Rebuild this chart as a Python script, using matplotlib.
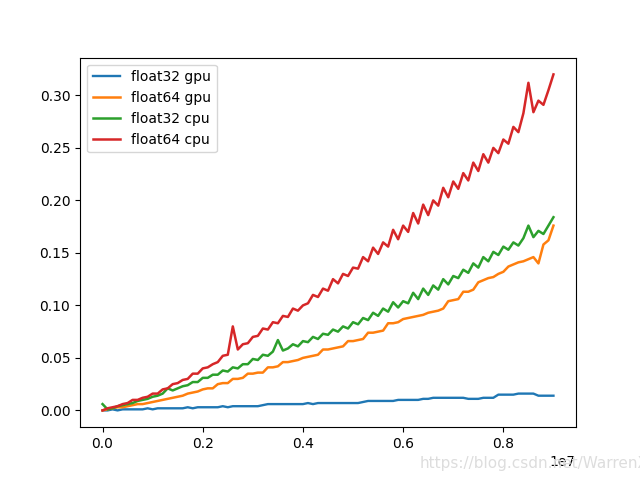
import numpy as np
import matplotlib
matplotlib.use('Agg')
import matplotlib.pyplot as plt
from matplotlib.ticker import ScalarFormatter

# 행렬 크기 (0 ~ 9e6, 1e5 간격)
sizes = np.linspace(0, 9e6, 91)

# 측정 시간 (초)
float32_gpu = [0.000, 0.000, 0.001, 0.000, 0.001, 0.001, 0.001, 0.001, 0.001, 0.002,
               0.001, 0.002, 0.002, 0.002, 0.002, 0.002, 0.002, 0.003, 0.002, 0.003,
               0.003, 0.003, 0.003, 0.003, 0.004, 0.003, 0.004, 0.004, 0.004, 0.004,
               0.004, 0.004, 0.005, 0.006, 0.006, 0.006, 0.006, 0.006, 0.006, 0.006,
               0.006, 0.007, 0.006, 0.007, 0.007, 0.007, 0.007, 0.007, 0.007, 0.007,
               0.007, 0.007, 0.008, 0.009, 0.009, 0.009, 0.009, 0.009, 0.009, 0.010,
               0.010, 0.010, 0.010, 0.010, 0.011, 0.011, 0.012, 0.012, 0.012, 0.012,
               0.012, 0.012, 0.012, 0.011, 0.011, 0.011, 0.012, 0.012, 0.012, 0.015,
               0.015, 0.015, 0.015, 0.016, 0.016, 0.016, 0.016, 0.014, 0.014, 0.014,
               0.014]

float64_gpu = [0.000, 0.001, 0.002, 0.003, 0.003, 0.004, 0.005, 0.006, 0.006, 0.007,
               0.008, 0.009, 0.010, 0.011, 0.012, 0.013, 0.014, 0.016, 0.017, 0.018,
               0.020, 0.021, 0.021, 0.025, 0.026, 0.026, 0.030, 0.030, 0.031, 0.035,
               0.035, 0.036, 0.036, 0.041, 0.041, 0.042, 0.046, 0.046, 0.047, 0.048,
               0.050, 0.051, 0.052, 0.053, 0.058, 0.058, 0.059, 0.060, 0.061, 0.066,
               0.066, 0.067, 0.068, 0.074, 0.074, 0.075, 0.076, 0.083, 0.083, 0.084,
               0.087, 0.088, 0.089, 0.090, 0.091, 0.093, 0.094, 0.095, 0.097, 0.104,
               0.105, 0.106, 0.113, 0.113, 0.115, 0.122, 0.124, 0.126, 0.127, 0.130,
               0.132, 0.137, 0.139, 0.141, 0.142, 0.144, 0.146, 0.140, 0.158, 0.162,
               0.176]

float32_cpu = [0.006, 0.001, 0.002, 0.004, 0.005, 0.006, 0.007, 0.009, 0.010, 0.011,
               0.013, 0.014, 0.016, 0.021, 0.019, 0.021, 0.023, 0.024, 0.027, 0.027,
               0.031, 0.031, 0.034, 0.034, 0.038, 0.037, 0.041, 0.040, 0.044, 0.044,
               0.049, 0.048, 0.053, 0.052, 0.056, 0.067, 0.057, 0.059, 0.063, 0.061,
               0.066, 0.065, 0.070, 0.068, 0.073, 0.072, 0.077, 0.075, 0.080, 0.078,
               0.084, 0.082, 0.088, 0.086, 0.093, 0.090, 0.097, 0.094, 0.103, 0.098,
               0.104, 0.102, 0.112, 0.106, 0.116, 0.110, 0.119, 0.115, 0.125, 0.120,
               0.128, 0.126, 0.134, 0.131, 0.140, 0.136, 0.146, 0.142, 0.151, 0.148,
               0.156, 0.153, 0.160, 0.157, 0.164, 0.176, 0.165, 0.171, 0.168, 0.176,
               0.184]

float64_cpu = [0.000, 0.002, 0.003, 0.004, 0.006, 0.007, 0.010, 0.010, 0.012, 0.013,
               0.016, 0.016, 0.020, 0.021, 0.025, 0.026, 0.029, 0.030, 0.035, 0.035,
               0.040, 0.041, 0.044, 0.046, 0.052, 0.053, 0.080, 0.058, 0.063, 0.064,
               0.070, 0.071, 0.078, 0.077, 0.084, 0.083, 0.090, 0.089, 0.097, 0.095,
               0.100, 0.102, 0.110, 0.108, 0.116, 0.114, 0.125, 0.121, 0.130, 0.128,
               0.136, 0.135, 0.146, 0.142, 0.155, 0.149, 0.160, 0.156, 0.172, 0.163,
               0.176, 0.170, 0.188, 0.178, 0.196, 0.186, 0.200, 0.195, 0.212, 0.203,
               0.218, 0.211, 0.226, 0.219, 0.236, 0.228, 0.244, 0.236, 0.250, 0.245,
               0.258, 0.254, 0.270, 0.265, 0.283, 0.312, 0.284, 0.295, 0.291, 0.305,
               0.320]

# 데이터 플로팅
plt.figure(figsize=(6.4, 4.8), dpi=100)
plt.plot(sizes, float32_gpu, label='float32 gpu', linewidth=1.7)
plt.plot(sizes, float64_gpu, label='float64 gpu', linewidth=1.8)
plt.plot(sizes, float32_cpu, label='float32 cpu', linewidth=1.8)
plt.plot(sizes, float64_cpu, label='float64 cpu', linewidth=1.8)
plt.legend(loc='upper left')

# x축 지수 1e7 고정
fmt = ScalarFormatter()
fmt.set_powerlimits((7, 7))
plt.gca().xaxis.set_major_formatter(fmt)

# 워터마크
plt.gcf().text(0.656, 0.025, 'https://blog.csdn.net/WarrenXf', color='#dddddd', fontsize=11)

plt.savefig('out.png')
